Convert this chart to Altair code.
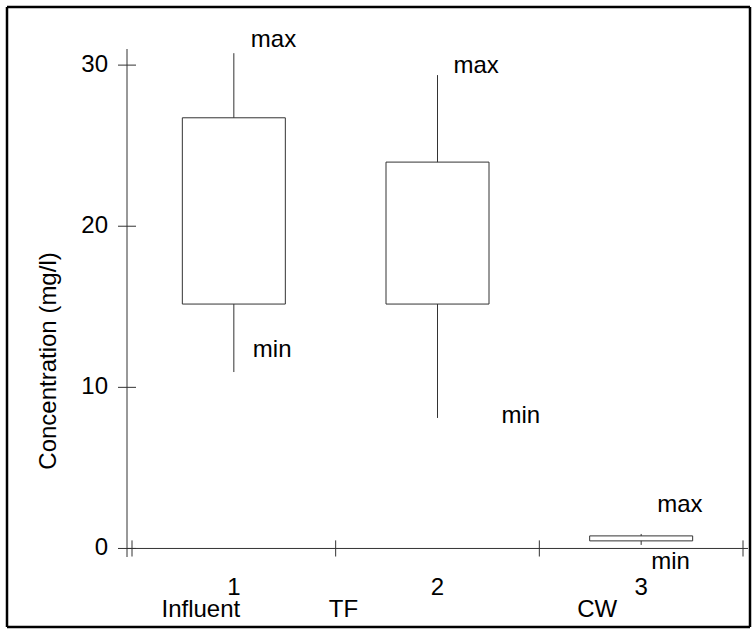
import altair as alt
import pandas as pd

# ---- data ----
categories = [1, 2, 3]
tick_labels = ["1", "2", "3"]
group_names = ["Influent", "TF", "CW"]
min_vals = [10.95, 8.1, 0.22]
q1_vals = [15.17, 15.17, 0.47]
q3_vals = [26.73, 23.98, 0.78]
max_vals = [30.74, 29.38, 0.9]
y_ticks = [0, 10, 20, 30]
boundaries = [0.5, 1.5, 2.5, 3.5]
y_title = "Concentration (mg/l)"

# ---- style / annotation offsets (pixels) ----
name_dx = [-33, -94, -44]
max_dx = [17, 16, 16]
max_dy = [-6, -2, -22]
min_dx = [19, 64, 10]
min_dy = [-15, 5, 24]

FONT = "Liberation Sans"
LINE = "#333333"
FS = 24
W, H = 621, 508

df = pd.DataFrame({
    "cat": categories, "lo": min_vals, "q1": q1_vals, "q3": q3_vals,
    "hi": max_vals, "tick": tick_labels, "name": group_names,
})

xs = alt.Scale(domain=[0.5, 3.5], nice=False, zero=False)
ys = alt.Scale(domain=[-0.53, 31.0], nice=False, zero=False)


def X(field="cat:Q"):
    return alt.X(field, scale=xs, axis=None)


def Y(field):
    return alt.Y(field, scale=ys, axis=None)


base = alt.Chart(df)

lower = base.mark_rule(color=LINE, strokeWidth=1).encode(
    x=X(), y=Y("lo:Q"), y2="q1:Q")
upper = base.mark_rule(color=LINE, strokeWidth=1).encode(
    x=X(), y=Y("q3:Q"), y2="hi:Q")
box = base.mark_bar(size=103, fill="white", stroke=LINE, strokeWidth=1).encode(
    x=X(), y=Y("q1:Q"), y2="q3:Q")

# x axis line at zero with crossing ticks at category boundaries
xline = alt.Chart(pd.DataFrame({"z": [0]})).mark_rule(color=LINE).encode(
    y=Y("z:Q"), x=alt.value(0), x2=alt.value(W))
tick_df = pd.DataFrame({"b": boundaries, "t0": [-0.5] * 4, "t1": [0.5] * 4})
xticks = alt.Chart(tick_df).mark_rule(color=LINE).encode(
    x=X("b:Q"), y=Y("t0:Q"), y2="t1:Q")

# y axis: line, crossing ticks, labels, title
ydf = pd.DataFrame({"v": y_ticks, "lab": [str(v) for v in y_ticks]})
yline = alt.Chart(pd.DataFrame({"a": [0]})).mark_rule(color=LINE).encode(
    x=alt.value(0), y=alt.value(0), y2=alt.value(H))
yticks = alt.Chart(ydf).mark_rule(color=LINE).encode(
    y=Y("v:Q"), x=alt.value(-9), x2=alt.value(9))
ylabels = alt.Chart(ydf).mark_text(font=FONT, fontSize=FS, align="right",
                                   baseline="middle", color="black").encode(
    y=Y("v:Q"), x=alt.value(-19), text="lab:N")
ytitle = alt.Chart(pd.DataFrame({"t": [y_title]})).mark_text(
    font=FONT, fontSize=FS, align="center", baseline="middle", angle=270,
    color="black").encode(x=alt.value(-78), y=alt.value(312), text="t:N")

digits = base.mark_text(font=FONT, fontSize=FS, align="center",
                        baseline="alphabetic", color="black").encode(
    x=X(), y=alt.value(546), text="tick:N")

layers = [box, lower, upper, xline, xticks, yline, yticks, ylabels, ytitle, digits]

for i in range(len(categories)):
    c = alt.Chart(df.iloc[[i]])
    layers.append(c.mark_text(font=FONT, fontSize=FS, align="center",
                              baseline="alphabetic", color="black",
                              dx=name_dx[i]).encode(
        x=X(), y=alt.value(568), text="name:N"))
    layers.append(c.mark_text(font=FONT, fontSize=FS, align="left",
                              baseline="alphabetic", color="black",
                              dx=max_dx[i], dy=max_dy[i], text="max").encode(
        x=X(), y=Y("hi:Q")))
    layers.append(c.mark_text(font=FONT, fontSize=FS, align="left",
                              baseline="alphabetic", color="black",
                              dx=min_dx[i], dy=min_dy[i], text="min").encode(
        x=X(), y=Y("lo:Q")))

# outer frame
one = pd.DataFrame({"a": [0]})
frame_style = dict(color="black", strokeWidth=2.5)
L, R, T, B = -120, 623, -42, 578
layers += [
    alt.Chart(one).mark_rule(**frame_style).encode(x=alt.value(L), x2=alt.value(R), y=alt.value(T)),
    alt.Chart(one).mark_rule(**frame_style).encode(x=alt.value(L), x2=alt.value(R), y=alt.value(B)),
    alt.Chart(one).mark_rule(**frame_style).encode(x=alt.value(L), y=alt.value(T), y2=alt.value(B)),
    alt.Chart(one).mark_rule(**frame_style).encode(x=alt.value(R), y=alt.value(T), y2=alt.value(B)),
]

chart = alt.layer(*layers).properties(
    width=W, height=H,
    autosize=alt.AutoSizeParams(type="none"),
    padding={"left": 127, "top": 49, "right": 8, "bottom": 77},
    background="white",
).configure_view(stroke=None)

chart.save("out.html", embed_options={"renderer": "svg", "actions": False})
